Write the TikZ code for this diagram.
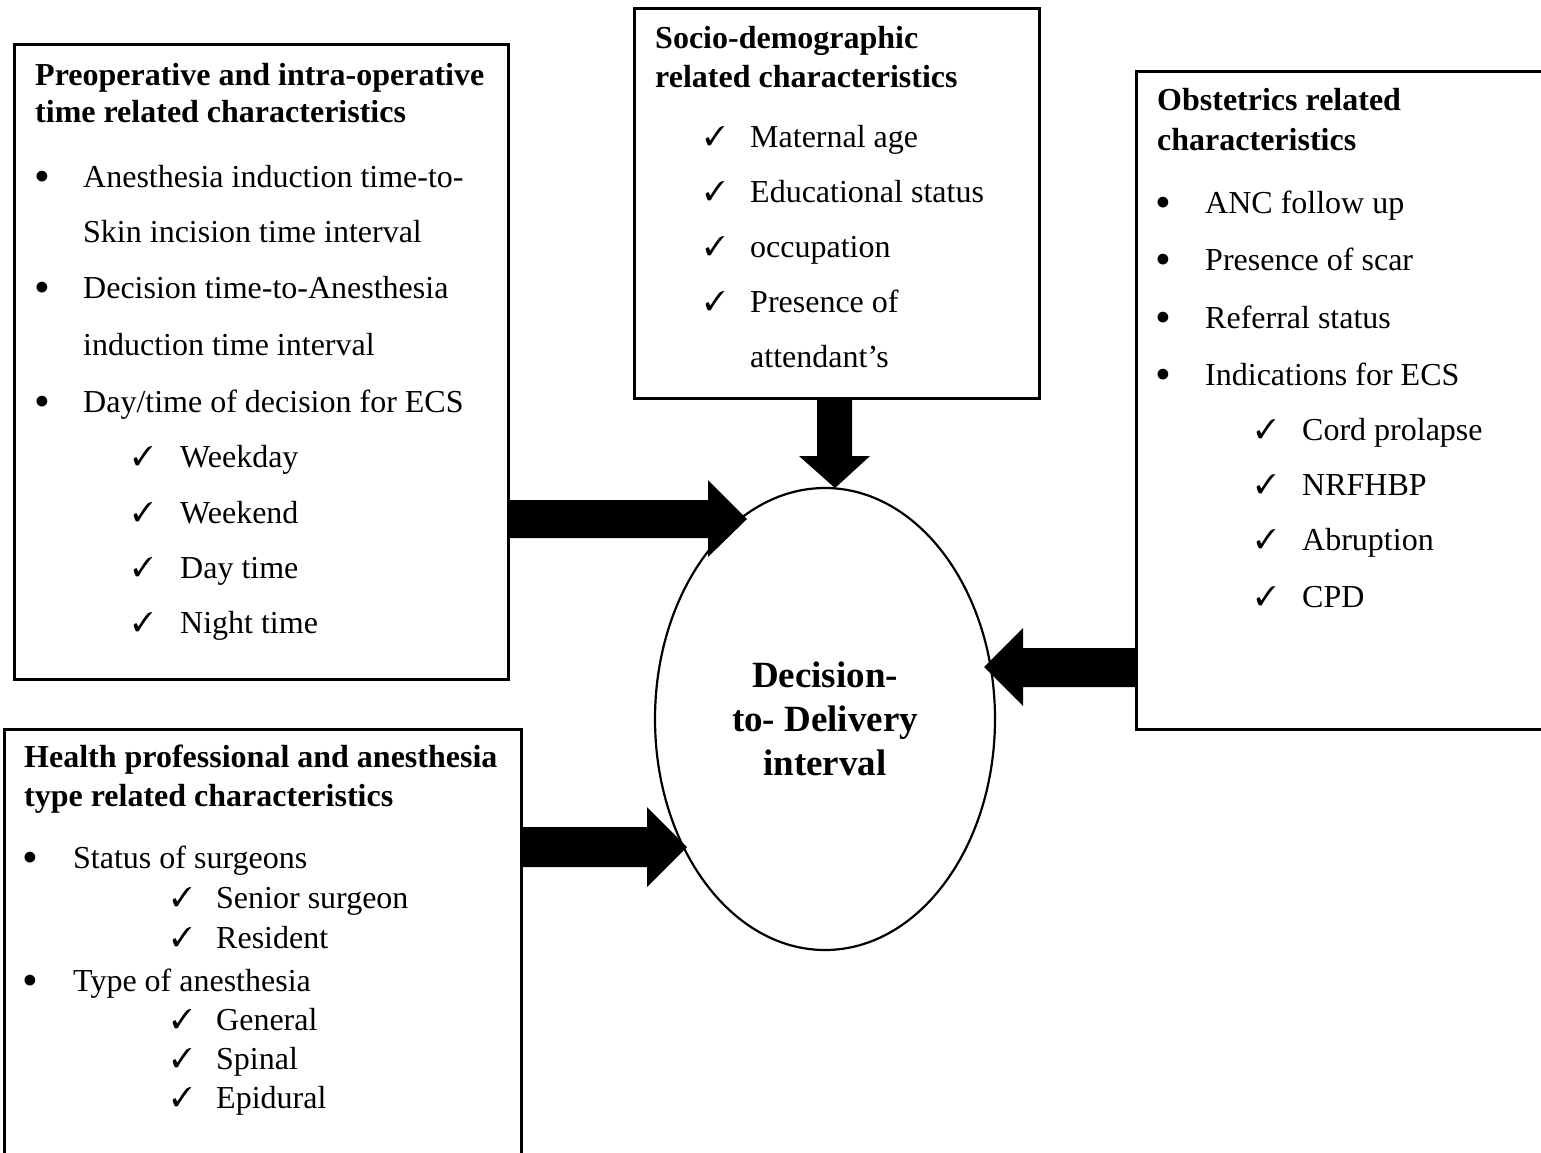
\documentclass[tikz,border=0pt]{standalone}
\usepackage{fontspec}
\setmainfont{Liberation Serif}
\usepackage{pifont}
\usetikzlibrary{shapes.geometric}
\tikzset{
  box/.style={draw, line width=2.8pt, inner sep=0pt, anchor=north west},
  txt/.style={inner sep=0pt, anchor=base west, font=\fontsize{32}{38}\selectfont},
  hd/.style={inner sep=0pt, anchor=base west, font=\fontsize{32}{38}\selectfont\bfseries},
  bul/.style={inner sep=0pt, anchor=base, yshift=-4pt, font=\fontsize{45}{50}\selectfont},
  chk/.style={inner sep=0pt, anchor=base, font=\fontsize{27}{30}\selectfont},
  fat/.style={fill=black},
  oval/.style={draw, ellipse, line width=2.2pt, inner sep=0pt, align=center,
    font=\fontsize{37}{44}\selectfont\bfseries}
}
\newcommand\chkmk{\ding{51}}
\begin{document}
\begin{tikzpicture}[x=1pt,y=-1pt]
\useasboundingbox (0,0) rectangle (1541,1152);

% boxes
\node[box, minimum width=494pt, minimum height=635pt] (b1) at (13,43) {};
\node[box, minimum width=405pt, minimum height=390pt] (b2) at (633,7) {};
\node[box, minimum width=430pt, minimum height=658pt] (b3) at (1135,70) {};
\node[box, minimum width=517pt, minimum height=450pt] (b4) at (3,728) {};

% central ellipse
\node[oval, minimum width=340pt, minimum height=462pt] (ell) at (825,719)
  {Decision-\\to- Delivery\\interval};

% box 1
\node[hd] (h1a) at (35,85) {Preoperative and intra-operative};
\node[hd] (h1b) at (35,122) {time related characteristics};
\node[bul] (p1) at (42,187) {\textbullet};
\node[txt] (t1a) at (83,187) {Anesthesia induction time-to-};
\node[txt] (t1b) at (83,242) {Skin incision time interval};
\node[bul] (p2) at (42,298) {\textbullet};
\node[txt] (t2a) at (83,298) {Decision time-to-Anesthesia};
\node[txt] (t2b) at (83,355) {induction time interval};
\node[bul] (p3) at (42,412) {\textbullet};
\node[txt] (t3) at (83,412) {Day/time of decision for ECS};
\node[chk] (c1) at (143,465) {\chkmk};
\node[txt] (s1) at (180,467) {Weekday};
\node[chk] (c2) at (143,521) {\chkmk};
\node[txt] (s2) at (180,523) {Weekend};
\node[chk] (c3) at (143,576) {\chkmk};
\node[txt] (s3) at (180,578) {Day time};
\node[chk] (c4) at (143,631) {\chkmk};
\node[txt] (s4) at (180,633) {Night time};

% box 2
\node[hd] (h2a) at (655,48) {Socio-demographic};
\node[hd] (h2b) at (655,87) {related characteristics};
\node[chk] (d1) at (715,145) {\chkmk};
\node[txt] (u1) at (750,147) {Maternal age};
\node[chk] (d2) at (715,200) {\chkmk};
\node[txt] (u2) at (750,202) {Educational status};
\node[chk] (d3) at (715,255) {\chkmk};
\node[txt] (u3) at (750,257) {occupation};
\node[chk] (d4) at (715,310) {\chkmk};
\node[txt] (u4) at (750,312) {Presence of};
\node[txt] (u5) at (750,367) {attendant’s};

% box 3
\node[hd] (h3a) at (1157,110) {Obstetrics related};
\node[hd] (h3b) at (1157,150) {characteristics};
\node[bul] (q1) at (1163,213) {\textbullet};
\node[txt] (v1) at (1205,213) {ANC follow up};
\node[bul] (q2) at (1163,270) {\textbullet};
\node[txt] (v2) at (1205,270) {Presence of scar};
\node[bul] (q3) at (1163,328) {\textbullet};
\node[txt] (v3) at (1205,328) {Referral status};
\node[bul] (q4) at (1163,385) {\textbullet};
\node[txt] (v4) at (1205,385) {Indications for ECS};
\node[chk] (e1) at (1266,438) {\chkmk};
\node[txt] (w1) at (1302,440) {Cord prolapse};
\node[chk] (e2) at (1266,493) {\chkmk};
\node[txt] (w2) at (1302,495) {NRFHBP};
\node[chk] (e3) at (1266,548) {\chkmk};
\node[txt] (w3) at (1302,550) {Abruption};
\node[chk] (e4) at (1266,605) {\chkmk};
\node[txt] (w4) at (1302,607) {CPD};

% box 4
\node[hd] (h4a) at (24,767) {Health professional and anesthesia};
\node[hd] (h4b) at (24,806) {type related characteristics};
\node[bul] (r1) at (30,868) {\textbullet};
\node[txt] (x1) at (73,868) {Status of surgeons};
\node[chk] (f1) at (182,906) {\chkmk};
\node[txt] (y1) at (216,908) {Senior surgeon};
\node[chk] (f2) at (182,946) {\chkmk};
\node[txt] (y2) at (216,948) {Resident};
\node[bul] (r2) at (30,991) {\textbullet};
\node[txt] (x2) at (73,991) {Type of anesthesia};
\node[chk] (f3) at (182,1028) {\chkmk};
\node[txt] (y3) at (216,1030) {General};
\node[chk] (f4) at (182,1067) {\chkmk};
\node[txt] (y4) at (216,1069) {Spinal};
\node[chk] (f5) at (182,1106) {\chkmk};
\node[txt] (y5) at (216,1108) {Epidural};

% block arrows
\fill[fat] (b1.east |- 0,500) -- (708,500) -- (708,480) -- (747,519)
  -- (708,557) -- (708,538) -- (b1.east |- 0,538) -- cycle;
\fill[fat] (b4.east |- 0,827) -- (647,827) -- (647,807) -- (687,847)
  -- (647,887) -- (647,867) -- (b4.east |- 0,867) -- cycle;
\fill[fat] (b3.west |- 0,648) -- (1023,648) -- (1023,628) -- (984,667)
  -- (1023,706) -- (1023,687) -- (b3.west |- 0,687) -- cycle;
\fill[fat] (b2.south -| 817,0) -- (817,456) -- (799,456) -- (835,488)
  -- (870,456) -- (852,456) -- (b2.south -| 852,0) -- cycle;
\end{tikzpicture}
\end{document}
